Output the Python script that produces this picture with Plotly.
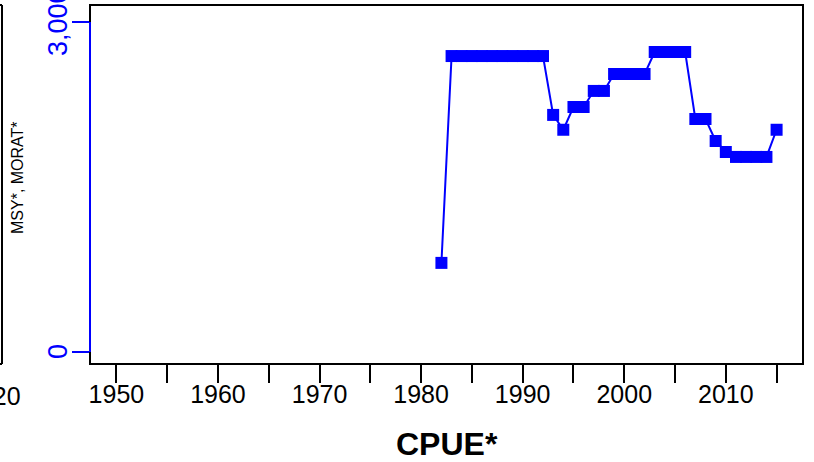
import plotly.graph_objects as go

# Annual index series
years = [1982, 1983, 1984, 1985, 1986, 1987, 1988, 1989, 1990, 1991, 1992,
         1993, 1994, 1995, 1996, 1997, 1998, 1999, 2000, 2001, 2002,
         2003, 2004, 2005, 2006, 2007, 2008, 2009, 2010,
         2011, 2012, 2013, 2014, 2015]
values = [810, 2690, 2690, 2690, 2690, 2690, 2690, 2690, 2690, 2690, 2690,
          2155, 2020, 2227, 2227, 2373, 2373, 2527, 2527, 2527, 2527,
          2727, 2727, 2727, 2727, 2118, 2118, 1918, 1818,
          1773, 1773, 1773, 1773, 2020]

x_ticks = [1950, 1955, 1960, 1965, 1970, 1975, 1980, 1985, 1990, 1995, 2000, 2005, 2010, 2015]
x_labels = ["1950", "", "1960", "", "1970", "", "1980", "", "1990", "", "2000", "", "2010", ""]
y_ticks = [0, 3000]
y_labels = ["0", "3,000"]

BLUE = "#0000FF"
FONT = "Liberation Sans, Arial, sans-serif"
PLOT_W, PLOT_H = 713, 359

fig = go.Figure()
fig.add_trace(go.Scatter(
    x=years, y=values, mode="lines+markers",
    line=dict(color=BLUE, width=2),
    marker=dict(symbol="square", size=12, color=BLUE, line=dict(width=0)),
    hoverinfo="x+y", showlegend=False,
))

x_span = x_ticks[-1] - x_ticks[0]
x_range = [x_ticks[0] - 0.04 * x_span, x_ticks[-1] + 0.04 * x_span]

fig.update_layout(
    width=814, height=462,
    margin=dict(l=90, r=11, t=5, b=98),
    paper_bgcolor="white", plot_bgcolor="white",
    font=dict(family=FONT, color="black"),
    xaxis=dict(
        range=x_range, tickmode="array", tickvals=x_ticks, ticktext=x_labels,
        ticks="outside", ticklen=18, tickwidth=2, tickcolor="black",
        showgrid=False, zeroline=False, showline=False,
        tickfont=dict(size=25, color="black", family=FONT),
        ticklabelstandoff=-10,
    ),
    yaxis=dict(
        range=[-109, 3154], tickmode="array", tickvals=y_ticks, ticktext=["", ""],
        ticks="outside", ticklen=17, tickwidth=2, tickcolor=BLUE,
        showgrid=False, zeroline=False, showline=False,
    ),
)

# plot frame
fig.add_shape(type="rect", xref="paper", yref="paper", x0=0, x1=1, y0=0, y1=1,
              line=dict(color="black", width=2), layer="above")
# blue left axis line spanning the tick range
fig.add_shape(type="line", xref="paper", yref="y", x0=0, x1=0, y0=y_ticks[0], y1=y_ticks[-1],
              line=dict(color=BLUE, width=2), layer="above")

# rotated y tick labels
for val, lab in zip(y_ticks, y_labels):
    fig.add_annotation(text=lab, xref="paper", yref="y", x=-32 / PLOT_W, y=val,
                       textangle=-90, xanchor="center", yanchor="middle", showarrow=False,
                       font=dict(size=27, color=BLUE, family=FONT))

# edge of the neighbouring panel on the left
panel_x = -88 / PLOT_W
fig.add_shape(type="line", xref="paper", yref="paper", x0=panel_x, x1=panel_x, y0=0, y1=1,
              line=dict(color="black", width=2))
fig.add_shape(type="line", xref="paper", yref="paper", x0=-0.2, x1=panel_x, y0=0, y1=0,
              line=dict(color="black", width=2))
fig.add_shape(type="line", xref="paper", yref="paper", x0=-0.2, x1=panel_x, y0=1, y1=1,
              line=dict(color="black", width=2))

fig.add_annotation(text="2020", xref="paper", yref="paper", x=-67 / PLOT_W, y=-16 / PLOT_H,
                   xanchor="right", yanchor="top", showarrow=False,
                   font=dict(size=25, color="black", family=FONT))

fig.add_annotation(text="MSY*, MORAT*", xref="paper", yref="paper",
                   x=-73 / PLOT_W, y=(364 - 178) / PLOT_H, textangle=-90,
                   xanchor="center", yanchor="middle", showarrow=False,
                   font=dict(size=16, color="black", family=FONT))

fig.add_annotation(text="<b>CPUE*</b>", xref="paper", yref="paper",
                   x=0.5, y=-60 / PLOT_H, xanchor="center", yanchor="top", showarrow=False,
                   font=dict(size=32, color="black", family=FONT))

fig.write_html("out.html")
